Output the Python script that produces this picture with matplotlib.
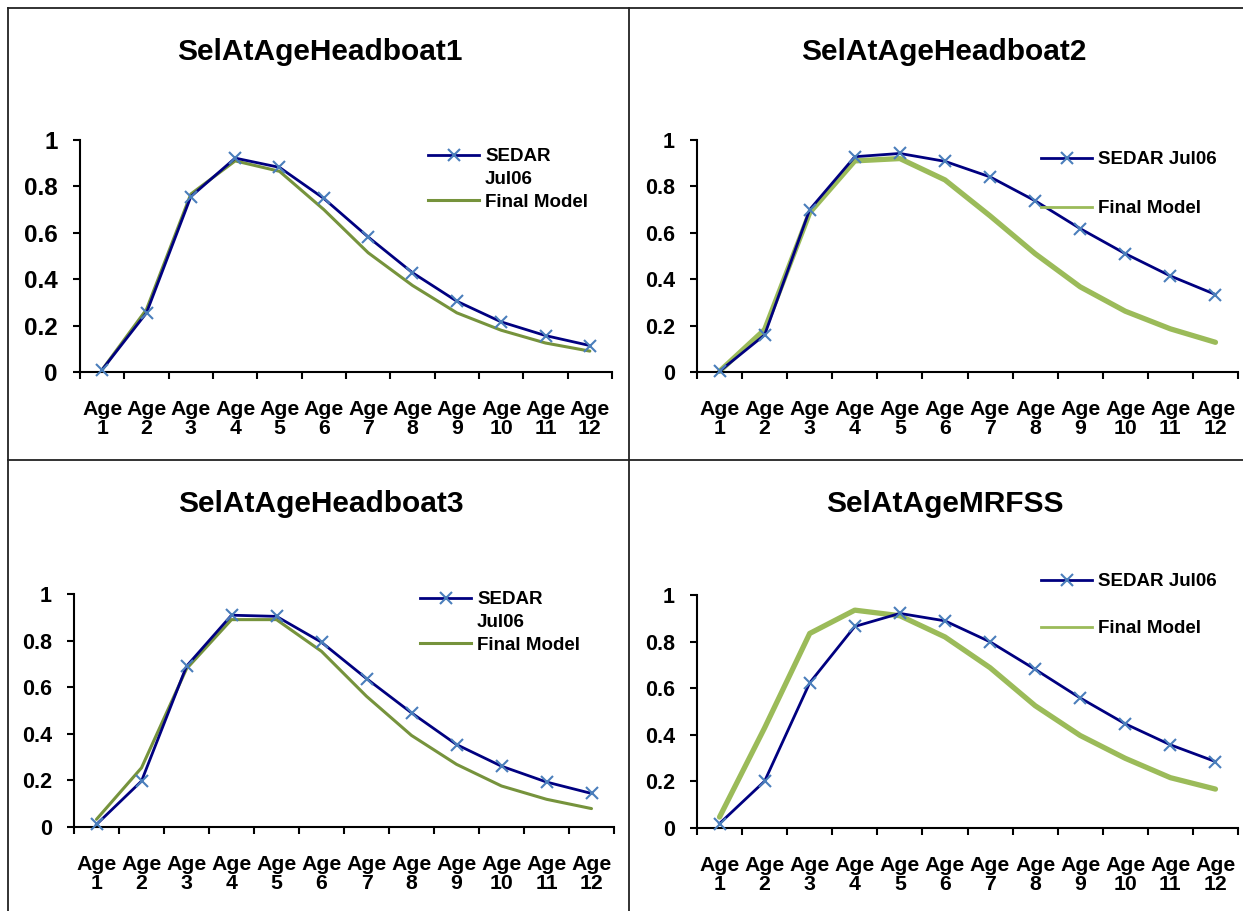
import matplotlib
matplotlib.use("Agg")
import matplotlib.pyplot as plt
from matplotlib.lines import Line2D
from matplotlib.ticker import FixedLocator, NullFormatter

plt.rcParams['font.family'] = ['Liberation Sans', 'DejaVu Sans']
plt.rcParams['font.weight'] = 'bold'

ages = ["Age\n1", "Age\n2", "Age\n3", "Age\n4", "Age\n5", "Age\n6",
        "Age\n7", "Age\n8", "Age\n9", "Age\n10", "Age\n11", "Age\n12"]

titles = ["SelAtAgeHeadboat1", "SelAtAgeHeadboat2",
          "SelAtAgeHeadboat3", "SelAtAgeMRFSS"]

sedar_hb1 = [0.01, 0.255, 0.756, 0.922, 0.882, 0.748, 0.582, 0.428, 0.305, 0.216, 0.157, 0.114]
final_hb1 = [0.01, 0.27, 0.767, 0.91, 0.865, 0.70, 0.514, 0.373, 0.255, 0.18, 0.125, 0.09]

sedar_hb2 = [0.003, 0.16, 0.70, 0.928, 0.942, 0.908, 0.841, 0.738, 0.618, 0.51, 0.414, 0.334]
final_hb2 = [0.003, 0.183, 0.687, 0.91, 0.92, 0.828, 0.673, 0.51, 0.367, 0.262, 0.186, 0.128]

sedar_hb3 = [0.011, 0.197, 0.69, 0.909, 0.904, 0.793, 0.637, 0.49, 0.354, 0.261, 0.193, 0.144]
final_hb3 = [0.033, 0.254, 0.679, 0.89, 0.89, 0.754, 0.561, 0.393, 0.269, 0.176, 0.119, 0.079]

sedar_mrfss = [0.019, 0.201, 0.623, 0.865, 0.921, 0.889, 0.799, 0.681, 0.558, 0.447, 0.357, 0.285]
final_mrfss = [0.047, 0.43, 0.835, 0.935, 0.911, 0.82, 0.688, 0.525, 0.397, 0.299, 0.216, 0.167]

yticks = [0, 0.2, 0.4, 0.6, 0.8, 1]
ytick_labels = ["0", "0.2", "0.4", "0.6", "0.8", "1"]

W, H = 1243, 911
fig = plt.figure(figsize=(W / 100, H / 100), dpi=100)

NAVY = "#000080"
MARK = "#4A7EBB"
OLIVE = "#76933C"
LGREEN = "#9BBB59"

panels = [
    dict(box=(80, 612, 140, 372), title=(320, 51.5), leg=(428, 148), split=True,
         fc=OLIVE, flw=2.2, fleg=2.2, ysz=17.5, ls=0.3,
         s=sedar_hb1, f=final_hb1, t=titles[0]),
    dict(box=(697, 1238, 140, 372), title=(944, 51.5), leg=(1041, 151), split=False,
         fc=LGREEN, flw=3.8, fleg=2.0, ysz=15.5, ls=1.7,
         s=sedar_hb2, f=final_hb2, t=titles[1]),
    dict(box=(74, 614, 594, 827), title=(321, 504.5), leg=(420, 591), split=True,
         fc=OLIVE, flw=2.2, fleg=2.2, ysz=15.5, ls=0.3,
         s=sedar_hb3, f=final_hb3, t=titles[2]),
    dict(box=(697, 1238, 595, 828), title=(945, 504.5), leg=(1041, 573), split=False,
         fc=LGREEN, flw=3.8, fleg=2.0, ysz=15.5, ls=1.6,
         s=sedar_mrfss, f=final_mrfss, t=titles[3]),
]

x = list(range(1, 13))

for p in panels:
    l, r, t, b = p["box"]
    ax = fig.add_axes([l / W, 1 - b / H, (r - l) / W, (b - t) / H])
    ax.plot(x, p["s"], color=NAVY, lw=2.0, marker="x", markersize=8,
            markeredgecolor=MARK, markeredgewidth=1.5, clip_on=False, zorder=3)
    ax.plot(x, p["f"], color=p["fc"], lw=p["flw"], clip_on=False, zorder=2,
            solid_joinstyle="round", solid_capstyle="round")
    ax.set_xlim(0.5, 12.5)
    ax.set_ylim(0, 1)
    for s in ("top", "right"):
        ax.spines[s].set_visible(False)
    for s in ("left", "bottom"):
        ax.spines[s].set_linewidth(1.5)
    ax.set_xticks(x)
    ax.set_xticklabels(ages, fontsize=15.3, fontweight="bold", linespacing=0.95)
    ax.xaxis.set_minor_locator(FixedLocator([i + 0.5 for i in range(0, 13)]))
    ax.xaxis.set_minor_formatter(NullFormatter())
    ax.tick_params(axis="x", which="major", length=0, pad=20.5)
    ax.tick_params(axis="x", which="minor", length=5, width=1.5, direction="out")
    ax.set_yticks(yticks)
    ax.set_yticklabels(ytick_labels, fontsize=p["ysz"], fontweight="bold")
    ax.tick_params(axis="y", length=5, width=1.5, pad=11, direction="out")

    tx, ty = p["title"]
    fig.text(tx / W, 1 - ty / H, p["t"], ha="center", va="center",
             fontsize=21.5, fontweight="bold")

    h_s = Line2D([], [], color=NAVY, lw=2.0, marker="x", markersize=8,
                 markeredgecolor=MARK, markeredgewidth=1.5)
    h_f = Line2D([], [], color=p["fc"], lw=p["fleg"])
    if p["split"]:
        handles = [h_s, Line2D([], [], lw=0, alpha=0), h_f]
        labels = ["SEDAR", "Jul06", "Final Model"]
    else:
        handles = [h_s, h_f]
        labels = ["SEDAR Jul06", "Final Model"]
    lx, ly = p["leg"]
    ax.legend(handles, labels, loc="upper left",
              bbox_to_anchor=(lx / W, 1 - ly / H), bbox_transform=fig.transFigure,
              frameon=False, borderpad=0, borderaxespad=0, handlelength=2.72,
              handletextpad=0.32, labelspacing=p["ls"], numpoints=1,
              prop=dict(size=13.5, weight="bold"))

def fline(x0, y0, x1, y1):
    fig.add_artist(Line2D([x0 / W, x1 / W], [1 - y0 / H, 1 - y1 / H],
                          transform=fig.transFigure, color="#222222", lw=1.3))

fline(8, 8, W, 8)
fline(8, 8, 8, H)
fline(629, 8, 629, H)
fline(8, 459.5, W, 459.5)

fig.savefig("out.png", dpi=100)
